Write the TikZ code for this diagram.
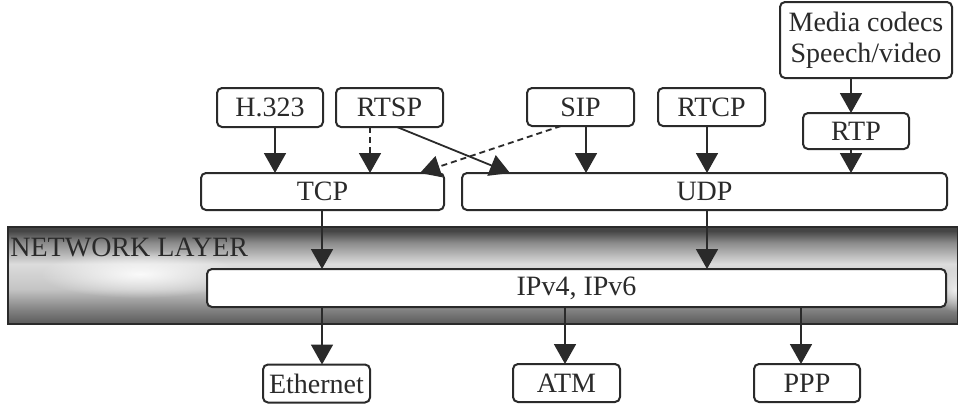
\documentclass[tikz,border=0pt]{standalone}
\usepackage{fontspec}
\setmainfont{Liberation Serif}
\usetikzlibrary{arrows.meta,fadings}

\definecolor{ink}{HTML}{2A2A2A}
\definecolor{bandA}{HTML}{5A5A5A}
\definecolor{bandB}{HTML}{808080}
\definecolor{bandC}{HTML}{C4C4C4}
\definecolor{bandD}{HTML}{DCDCDC}
\definecolor{bandE}{HTML}{8A8A8A}
\definecolor{bandF}{HTML}{454545}

% metallic look of the network layer band; the path spans 25bp..75bp
\pgfdeclareverticalshading{bandshade}{100bp}{%
  color(0bp)=(bandA); color(25bp)=(bandA); color(32bp)=(bandB);
  color(43bp)=(bandC); color(56bp)=(bandD); color(67bp)=(bandE);
  color(73bp)=(bandF); color(75bp)=(bandF); color(100bp)=(bandF)}

% soft highlight, opaque in the middle and clear at the rim
\tikzfading[name=softglow, inner color=transparent!0, outer color=transparent!100]

\begin{document}
\begin{tikzpicture}[x=0.5pt,y=-0.5pt,
  box/.style={draw=ink, line width=1pt, rounded corners=2.5pt, fill=white,
    text=ink, inner sep=0pt, outer sep=0pt, align=center,
    font=\fontsize{14}{15.5}\selectfont},
  arr/.style={draw=ink, line width=0.9pt, -{Triangle[width=11pt,length=10pt]}},
  dasharr/.style={arr, dash pattern=on 3pt off 2pt}]

\useasboundingbox (0,0) rectangle (958,403);

% network layer band
\shade[shading=bandshade] (8,227) rectangle (958,324);
\fill[white, path fading=softglow, opacity=0.9] (140,274) ellipse [x radius=50pt, y radius=12pt];
\fill[white, path fading=softglow, opacity=0.7] (955,290) ellipse [x radius=9pt, y radius=11pt];
\draw[ink, line width=1pt] (8,227) rectangle (958,324);
\node[anchor=base west, inner sep=0pt, text=ink, font=\fontsize{14}{16}\selectfont]
  (netlabel) at (10,256) {NETWORK LAYER};

% application layer
\node[box, minimum width=53pt,   minimum height=19.5pt] (h323)  at (270,107.5) {H.323};
\node[box, minimum width=53.5pt, minimum height=19.5pt] (rtsp)  at (389.5,107.5) {RTSP};
\node[box, minimum width=53.5pt, minimum height=19pt]   (sip)   at (580.5,107) {SIP};
\node[box, minimum width=53.5pt, minimum height=19pt]   (rtcp)  at (711.5,107) {RTCP};
\node[box, minimum width=86pt,   minimum height=38pt]   (media) at (866,40) {Media codecs\\Speech/video};
\node[box, minimum width=53pt,   minimum height=18pt]   (rtp)   at (856,131) {RTP};

% transport layer
\node[box, minimum width=121.5pt, minimum height=18.5pt] (tcp) at (322.5,191.5) {TCP};
\node[box, minimum width=242.5pt, minimum height=18.5pt] (udp) at (704.5,191.5) {UDP};

% network layer
\node[box, minimum width=369.5pt, minimum height=19pt] (ip) at (576.5,288) {IPv4, IPv6};

% link layer
\node[box, minimum width=53.5pt, minimum height=19pt] (eth) at (316.5,383.5) {Ethernet};
\node[box, minimum width=53.5pt, minimum height=19pt] (atm) at (566.5,383) {ATM};
\node[box, minimum width=53pt,   minimum height=19pt] (ppp) at (807,383) {PPP};

% connector end points
\coordinate (h1) at ([xshift=2.5pt]h323.south);
\coordinate (r1) at ([xshift=-9.75pt]rtsp.south);
\coordinate (s1) at ([xshift=2.75pt]sip.south);
\coordinate (c1) at ([xshift=-2.25pt]rtcp.south);
\coordinate (m1) at ([xshift=-7.5pt]media.south);
\coordinate (p1) at ([xshift=-2.5pt]rtp.south);
\coordinate (t1) at ([xshift=-0.25pt]tcp.south);
\coordinate (u1) at ([xshift=1.25pt]udp.south);
\coordinate (e1) at ([xshift=2.75pt]eth.north);
\coordinate (a1) at ([xshift=-0.75pt]atm.north);
\coordinate (q1) at ([xshift=-3pt]ppp.north);

% application to transport
\draw[arr] (h1) -- (h1 |- tcp.north);
\draw[dasharr] (r1) -- (r1 |- tcp.north);
\draw[arr] ([xshift=3.75pt]rtsp.south) -- ([xshift=-97.25pt]udp.north);
\draw[dasharr] ([xshift=-9.75pt]sip.south) -- ([xshift=48.75pt]tcp.north);
\draw[arr] (s1) -- (s1 |- udp.north);
\draw[arr] (c1) -- (c1 |- udp.north);
\draw[arr] (m1) -- (m1 |- rtp.north);
\draw[arr] (p1) -- (p1 |- udp.north);

% transport to network
\draw[arr] (t1) -- (t1 |- ip.north);
\draw[arr] (u1) -- (u1 |- ip.north);

% network to link
\draw[arr] (e1 |- ip.south) -- (e1);
\draw[arr] (a1 |- ip.south) -- (a1);
\draw[arr] (q1 |- ip.south) -- (q1);
\end{tikzpicture}
\end{document}
